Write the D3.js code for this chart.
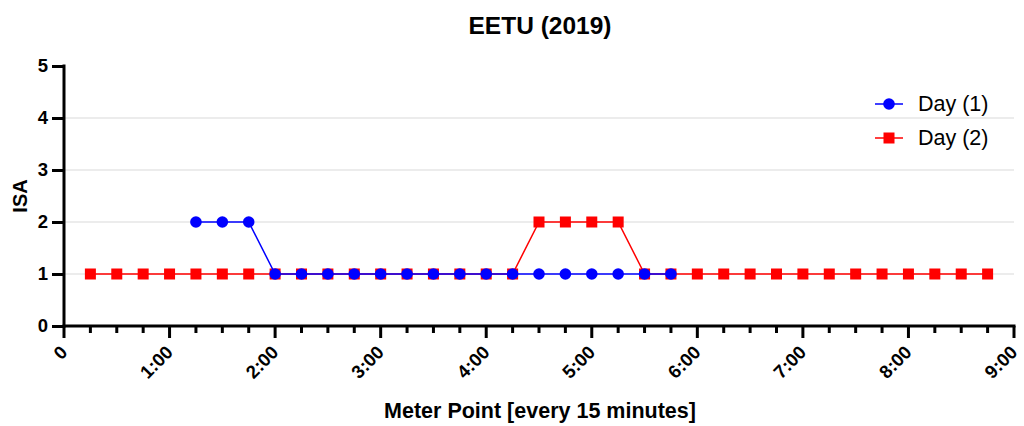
<!DOCTYPE html>
<html>
<head>
<meta charset="utf-8">
<script src="https://cdn.jsdelivr.net/npm/d3@7"></script>
<style>
  html, body { margin: 0; padding: 0; background: #fff; }
  svg { display: block; font-family: "Liberation Sans", Arial, sans-serif; }
</style>
</head>
<body>
<svg id="chart" width="1024" height="426"></svg>
<script>
// Time in hours for every 15-minute meter reading
const day1Times = [1.25, 1.5, 1.75, 2, 2.25, 2.5, 2.75, 3, 3.25, 3.5, 3.75, 4, 4.25, 4.5, 4.75, 5, 5.25, 5.5, 5.75];
const day1Values = [2, 2, 2, 1, 1, 1, 1, 1, 1, 1, 1, 1, 1, 1, 1, 1, 1, 1, 1];

const day2Times = [0.25, 0.5, 0.75, 1, 1.25, 1.5, 1.75, 2, 2.25, 2.5, 2.75, 3, 3.25, 3.5, 3.75, 4, 4.25,
                   4.5, 4.75, 5, 5.25, 5.5, 5.75, 6, 6.25, 6.5, 6.75, 7, 7.25, 7.5, 7.75, 8, 8.25, 8.5, 8.75];
const day2Values = [1, 1, 1, 1, 1, 1, 1, 1, 1, 1, 1, 1, 1, 1, 1, 1, 1,
                    2, 2, 2, 2, 1, 1, 1, 1, 1, 1, 1, 1, 1, 1, 1, 1, 1, 1];

const xTickValues = [0, 1, 2, 3, 4, 5, 6, 7, 8, 9];
const xTickLabels = ["0", "1:00", "2:00", "3:00", "4:00", "5:00", "6:00", "7:00", "8:00", "9:00"];
const yTickValues = [0, 1, 2, 3, 4, 5];
const seriesNames = ["Day (1)", "Day (2)"];

const svg = d3.select("#chart");
const plotLeft = 64, plotRight = 1014, plotTop = 66, plotBottom = 326;

const x = d3.scaleLinear().domain([0, 9]).range([plotLeft, plotRight]);
const y = d3.scaleLinear().domain([0, 5]).range([plotBottom, plotTop]);

// Horizontal gridlines
svg.append("g")
  .selectAll("line")
  .data([1, 2, 3, 4])
  .join("line")
  .attr("x1", plotLeft).attr("x2", plotRight)
  .attr("y1", d => y(d)).attr("y2", d => y(d))
  .attr("stroke", "#d9d9d9").attr("stroke-width", 1);

// Title
svg.append("text")
  .attr("x", 540).attr("y", 34)
  .attr("text-anchor", "middle")
  .attr("font-size", 24.5).attr("font-weight", "bold")
  .text("EETU (2019)");

// Y axis
const yAxis = svg.append("g")
  .attr("transform", `translate(${plotLeft},0)`)
  .call(d3.axisLeft(y).tickValues(yTickValues).tickFormat(d3.format("d")).tickSize(12).tickPadding(4));
yAxis.select(".domain").attr("stroke-width", 3).attr("d", `M0,${plotTop - 1.5}V${plotBottom + 1.5}`);
yAxis.selectAll(".tick line").attr("stroke-width", 3);
yAxis.selectAll(".tick text")
  .attr("font-size", 18.5).attr("font-weight", "bold")
  .attr("font-family", "Liberation Sans, Arial, sans-serif").attr("fill", "#000");

// X axis with minor 15-minute ticks
const xg = svg.append("g").attr("transform", `translate(0,${plotBottom})`);
xg.append("line")
  .attr("x1", plotLeft - 1.5).attr("x2", plotRight + 1.5)
  .attr("stroke", "#000").attr("stroke-width", 3);
const minor = d3.range(0, 37).map(i => i * 0.25).filter(v => v % 1 !== 0);
xg.selectAll(".minor")
  .data(minor)
  .join("line")
  .attr("class", "minor")
  .attr("x1", d => x(d)).attr("x2", d => x(d))
  .attr("y1", 0).attr("y2", 7)
  .attr("stroke", "#000").attr("stroke-width", 3);
xg.selectAll(".major")
  .data(xTickValues)
  .join("line")
  .attr("class", "major")
  .attr("x1", d => x(d)).attr("x2", d => x(d))
  .attr("y1", 0).attr("y2", 12)
  .attr("stroke", "#000").attr("stroke-width", 3);
xg.selectAll(".lbl")
  .data(xTickValues)
  .join("text")
  .attr("class", "lbl")
  .attr("transform", d => `translate(${x(d) + 1},${24}) rotate(-45)`)
  .attr("text-anchor", "end")
  .attr("dominant-baseline", "middle")
  .attr("font-size", 18.5).attr("font-weight", "bold")
  .text((d, i) => xTickLabels[i]);

// Axis titles
svg.append("text")
  .attr("x", 540).attr("y", 418)
  .attr("text-anchor", "middle")
  .attr("font-size", 21.5).attr("font-weight", "bold")
  .text("Meter Point [every 15 minutes]");
svg.append("text")
  .attr("transform", `translate(27,${(plotTop + plotBottom) / 2}) rotate(-90)`)
  .attr("text-anchor", "middle")
  .attr("font-size", 20).attr("font-weight", "bold")
  .text("ISA");

const line = d3.line().x(d => x(d[0])).y(d => y(d[1]));
const d1 = day1Times.map((t, i) => [t, day1Values[i]]);
const d2 = day2Times.map((t, i) => [t, day2Values[i]]);

// Day (2): red squares
svg.append("path").datum(d2).attr("d", line)
  .attr("fill", "none").attr("stroke", "#ff0000").attr("stroke-width", 1.5);
svg.append("g").selectAll("rect").data(d2).join("rect")
  .attr("x", d => x(d[0]) - 5.5).attr("y", d => y(d[1]) - 5.5)
  .attr("width", 11).attr("height", 11).attr("fill", "#ff0000");

// Day (1): blue circles
svg.append("path").datum(d1).attr("d", line)
  .attr("fill", "none").attr("stroke", "#0000ff").attr("stroke-width", 1.5);
svg.append("g").selectAll("circle").data(d1).join("circle")
  .attr("cx", d => x(d[0])).attr("cy", d => y(d[1]))
  .attr("r", 5.8).attr("fill", "#0000ff");

// Legend
const legend = svg.append("g");
const items = [
  { name: seriesNames[0], color: "#0000ff", shape: "circle", yy: 104 },
  { name: seriesNames[1], color: "#ff0000", shape: "square", yy: 138 }
];
items.forEach(it => {
  legend.append("line")
    .attr("x1", 875).attr("x2", 903).attr("y1", it.yy).attr("y2", it.yy)
    .attr("stroke", it.color).attr("stroke-width", 1.5);
  if (it.shape === "circle") {
    legend.append("circle").attr("cx", 889).attr("cy", it.yy).attr("r", 5.8).attr("fill", it.color);
  } else {
    legend.append("rect").attr("x", 883.5).attr("y", it.yy - 5.5).attr("width", 11).attr("height", 11).attr("fill", it.color);
  }
  legend.append("text")
    .attr("x", 918).attr("y", it.yy)
    .attr("dominant-baseline", "central")
    .attr("font-size", 21.5)
    .text(it.name);
});
</script>
</body>
</html>
